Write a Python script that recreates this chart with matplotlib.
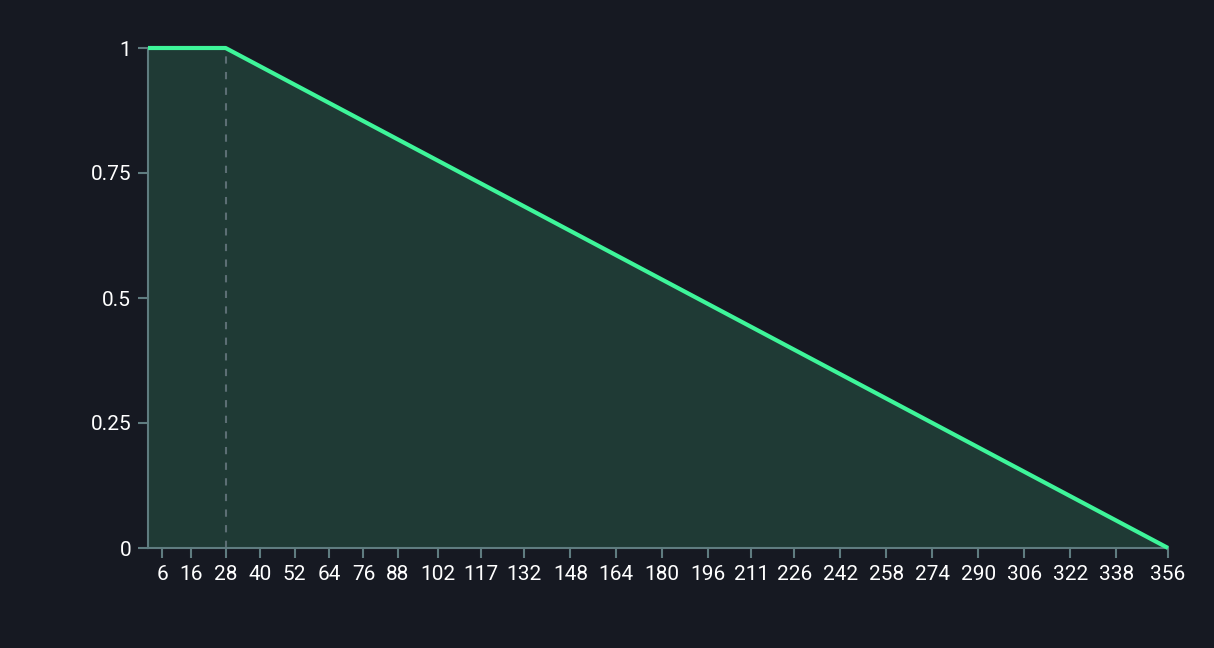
import matplotlib
matplotlib.use("Agg")
import matplotlib.pyplot as plt
from matplotlib import font_manager

x_vals = [1, 28, 356]
y_vals = [1, 1, 0]
marker_x = 28
x_ticks = [6, 16, 28, 40, 52, 64, 76, 88, 102, 117, 132, 148, 164, 180, 196, 211, 226, 242, 258, 274, 290, 306, 322, 338, 356]
y_ticks = [0, 0.25, 0.5, 0.75, 1]
y_tick_labels = ["0", "0.25", "0.5", "0.75", "1"]

names = {f.name for f in font_manager.fontManager.ttflist}
fam = [f for f in ["Liberation Sans Narrow", "Roboto", "DejaVu Sans"] if f in names]
plt.rcParams['font.family'] = fam

bg = "#161922"
axis_col = "#5f7c80"
fig = plt.figure(figsize=(12.14, 6.48), dpi=100, facecolor=bg)
ax = fig.add_axes([148/1214, 1-548/648, (1168-148)/1214, 500/648])
ax.set_facecolor(bg)

ax.fill_between(x_vals, y_vals, 0, color="#1f3a35", lw=0, zorder=1)
ax.plot([marker_x, marker_x], [0, 1], color="#5c6e74", lw=1.5, ls=(0, (3.5, 4)), zorder=2)
ax.plot(x_vals, y_vals, color="#3ef59a", lw=3, solid_capstyle="butt", zorder=3, clip_on=False)

ax.set_xlim(1, 356)
ax.set_ylim(0, 1)
ax.set_xticks(x_ticks)
ax.set_xticklabels([str(t) for t in x_ticks])
ax.set_yticks(y_ticks)
ax.set_yticklabels(y_tick_labels)

for s in ["top", "right"]:
    ax.spines[s].set_visible(False)
for s in ["left", "bottom"]:
    ax.spines[s].set_color(axis_col)
    ax.spines[s].set_linewidth(1.5)
ax.tick_params(axis="both", colors=axis_col, length=7, width=1.5, labelcolor="white", labelsize=15)
ax.tick_params(axis="x", pad=5)
ax.tick_params(axis="y", pad=5)

fig.savefig("out.png", dpi=100, facecolor=bg)
